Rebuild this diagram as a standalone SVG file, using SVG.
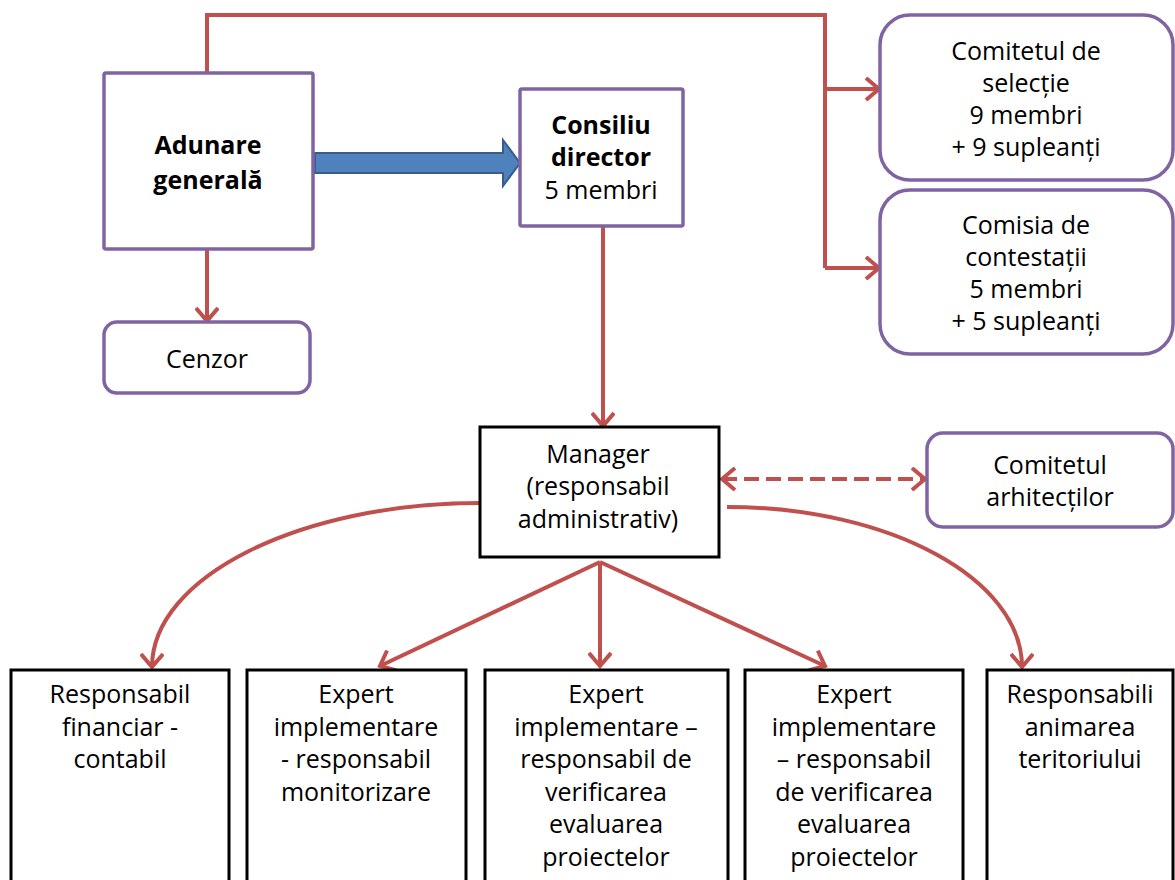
<svg xmlns="http://www.w3.org/2000/svg" width="1175" height="880" viewBox="0 0 1175 880">
<style>
.t{font-family:"Open Sans","DejaVu Sans",sans-serif;font-size:25px;fill:#000;text-anchor:middle}
.b{font-weight:bold}
.pb{fill:#fff;stroke:#8064A2;stroke-width:3.5}
.kb{fill:#fff;stroke:#000;stroke-width:3}
.c{fill:none;stroke:#C0504D;stroke-width:4}
</style>
<defs>
<marker id="ah" markerUnits="userSpaceOnUse" viewBox="0 0 20 24" markerWidth="20" markerHeight="24" refX="17" refY="12" orient="auto-start-reverse">
<path d="M4,1 L17,12 L4,23" fill="none" stroke="#C0504D" stroke-width="4" stroke-dasharray="none" stroke-linejoin="miter"/>
</marker>
</defs>
<rect width="1175" height="880" fill="#fff"/>
<g id="connectors">
<path class="c" d="M207,73 V15 H825 V268"/>
<path class="c" d="M825,89 H879" marker-end="url(#ah)"/>
<path class="c" d="M825,268 H879" marker-end="url(#ah)"/>
<path class="c" d="M207,249 V321" marker-end="url(#ah)"/>
<path class="c" d="M603,227 V426" marker-end="url(#ah)"/>
<path class="c" d="M722,479 H925" stroke-dasharray="15 7" marker-start="url(#ah)" marker-end="url(#ah)"/>
<path class="c" d="M480,503 C300,503 152,577 152,667" marker-end="url(#ah)"/>
<path class="c" d="M727,507 C890,507 1022,579 1022,667" marker-end="url(#ah)"/>
<path class="c" d="M600,562 L380,666" marker-end="url(#ah)"/>
<path class="c" d="M600,562 L600,666" marker-end="url(#ah)"/>
<path class="c" d="M600,562 L825,666" marker-end="url(#ah)"/>
<polygon points="315,153 503,153 503,140 520,163 503,186 503,173 315,173" fill="#4F81BD" stroke="#385D8A" stroke-width="2"/>
</g>
<g id="adunare">
<rect class="pb" x="104" y="73" width="209" height="176" rx="2"/>
<text class="t b" x="208" y="154">Adunare</text>
<text class="t b" x="208" y="189">generală</text>
</g>
<g id="consiliu">
<rect class="pb" x="520" y="89" width="163" height="137" rx="2"/>
<text class="t b" x="601" y="134">Consiliu</text>
<text class="t b" x="601" y="166">director</text>
<text class="t" x="601" y="199">5 membri</text>
</g>
<g id="comitetul-selectie">
<rect class="pb" x="880" y="15" width="293" height="165" rx="30"/>
<text class="t" x="1026" y="60">Comitetul de</text>
<text class="t" x="1026" y="92">selecție</text>
<text class="t" x="1026" y="124">9 membri</text>
<text class="t" x="1026" y="156">+ 9 supleanți</text>
</g>
<g id="comisia-contestatii">
<rect class="pb" x="880" y="190" width="293" height="164" rx="30"/>
<text class="t" x="1026" y="234">Comisia de</text>
<text class="t" x="1026" y="266">contestații</text>
<text class="t" x="1026" y="298">5 membri</text>
<text class="t" x="1026" y="330">+ 5 supleanți</text>
</g>
<g id="cenzor">
<rect class="pb" x="104" y="322" width="206" height="71" rx="13"/>
<text class="t" x="207" y="368">Cenzor</text>
</g>
<g id="manager">
<rect class="kb" x="480" y="427" width="239" height="130"/>
<text class="t" x="598" y="463">Manager</text>
<text class="t" x="598" y="495">(responsabil</text>
<text class="t" x="598" y="528">administrativ)</text>
</g>
<g id="comitetul-arhitectilor">
<rect class="pb" x="927" y="433" width="246" height="94" rx="16"/>
<text class="t" x="1050" y="474">Comitetul</text>
<text class="t" x="1050" y="506">arhitecților</text>
</g>
<g id="resp-financiar">
<rect class="kb" x="11" y="670" width="218" height="230"/>
<text class="t" x="120" y="703">Responsabil</text>
<text class="t" x="120" y="736">financiar -</text>
<text class="t" x="120" y="768">contabil</text>
</g>
<g id="expert-monitorizare">
<rect class="kb" x="247" y="670" width="219" height="230"/>
<text class="t" x="356" y="703">Expert</text>
<text class="t" x="356" y="736">implementare</text>
<text class="t" x="356" y="768">- responsabil</text>
<text class="t" x="356" y="801">monitorizare</text>
</g>
<g id="expert-verificare-1">
<rect class="kb" x="485" y="670" width="243" height="230"/>
<text class="t" x="606" y="703">Expert</text>
<text class="t" x="606" y="736">implementare –</text>
<text class="t" x="606" y="768">responsabil de</text>
<text class="t" x="606" y="801">verificarea</text>
<text class="t" x="606" y="833">evaluarea</text>
<text class="t" x="606" y="866">proiectelor</text>
</g>
<g id="expert-verificare-2">
<rect class="kb" x="745" y="670" width="218" height="230"/>
<text class="t" x="854" y="703">Expert</text>
<text class="t" x="854" y="736">implementare</text>
<text class="t" x="854" y="768">– responsabil</text>
<text class="t" x="854" y="801">de verificarea</text>
<text class="t" x="854" y="833">evaluarea</text>
<text class="t" x="854" y="866">proiectelor</text>
</g>
<g id="resp-animare">
<rect class="kb" x="987" y="670" width="186" height="230"/>
<text class="t" x="1080" y="703">Responsabili</text>
<text class="t" x="1080" y="736">animarea</text>
<text class="t" x="1080" y="768">teritoriului</text>
</g>
</svg>
